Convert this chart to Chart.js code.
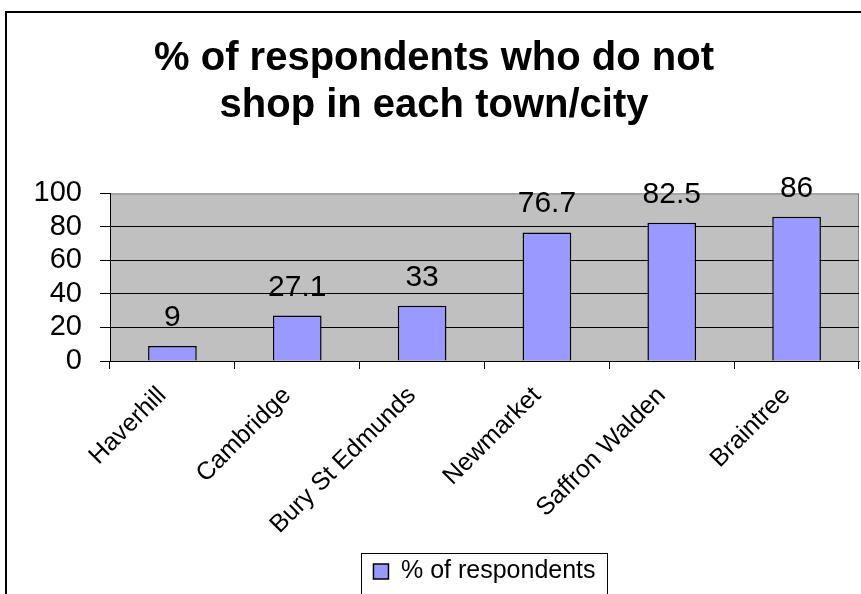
<!DOCTYPE html>
<html>
<head>
<meta charset="utf-8">
<script src="https://cdn.jsdelivr.net/npm/chart.js@4.4.1/dist/chart.umd.min.js"></script>
<style>
  html, body { margin: 0; padding: 0; background: #fff; }
  canvas { display: block; }
</style>
</head>
<body>
<canvas id="shopChart" width="861" height="594"></canvas>
<script>
const towns = ['Haverhill', 'Cambridge', 'Bury St Edmunds', 'Newmarket', 'Saffron Walden', 'Braintree'];
const pctNotShop = [9, 27.1, 33, 76.7, 82.5, 86];
const seriesName = '% of respondents';
const chartTitle = ['% of respondents who do not', 'shop in each town/city'];
const yMin = 0, yMax = 100, yStep = 20;

const FONT = "'Liberation Sans', Arial, sans-serif";

// white page, outer frame and the grey plot area
const plotBackground = {
    id: 'plotBackground',
    beforeDraw(chart) {
        const { ctx, chartArea: a } = chart;
        ctx.save();
        ctx.fillStyle = '#fff';
        ctx.fillRect(0, 0, chart.width, chart.height);
        ctx.strokeStyle = '#000';
        ctx.lineWidth = 2;
        ctx.beginPath();
        ctx.moveTo(6, chart.height);
        ctx.lineTo(6, 12);
        ctx.lineTo(chart.width, 12);
        ctx.stroke();
        ctx.fillStyle = '#c0c0c0';
        ctx.fillRect(a.left, a.top, a.width, a.height);
        ctx.strokeStyle = '#808080';
        ctx.lineWidth = 1;
        ctx.strokeRect(a.left + 0.5, a.top + 0.5, a.width - 1, a.height);
        ctx.restore();
    }
};

// value above each bar
const barValues = {
    id: 'barValues',
    afterDatasetsDraw(chart) {
        const { ctx } = chart;
        const meta = chart.getDatasetMeta(0);
        ctx.save();
        ctx.fillStyle = '#000';
        ctx.font = '30px ' + FONT;
        ctx.textAlign = 'center';
        ctx.textBaseline = 'alphabetic';
        meta.data.forEach((bar, i) => {
            ctx.fillText(String(pctNotShop[i]), bar.x, bar.y - 20);
        });
        ctx.restore();
    }
};

// box round the legend, runs off the bottom like the original
const legendFrame = {
    id: 'legendFrame',
    afterDraw(chart) {
        const hb = chart.legend && chart.legend.legendHitBoxes[0];
        if (!hb) return;
        const ctx = chart.ctx;
        ctx.save();
        ctx.strokeStyle = '#000';
        ctx.lineWidth = 1;
        ctx.strokeRect(Math.round(hb.left - 12) + 0.5, Math.round(hb.top - 6) + 0.5,
            Math.round(hb.width + 24), chart.height);
        ctx.restore();
    }
};

new Chart(document.getElementById('shopChart'), {
    type: 'bar',
    data: {
        labels: towns,
        datasets: [{
            label: seriesName,
            data: pctNotShop,
            backgroundColor: '#9999ff',
            borderColor: '#000',
            borderWidth: 1.5,
            categoryPercentage: 1,
            barPercentage: 0.39
        }]
    },
    options: {
        responsive: false,
        animation: false,
        events: [],
        layout: { padding: { left: 9, right: 2, top: 0, bottom: 0 } },
        scales: {
            x: {
                grid: { offset: true, drawOnChartArea: false, tickLength: 8, tickColor: '#000' },
                border: { color: '#000', width: 1 },
                ticks: {
                    color: '#000',
                    font: { family: FONT, size: 25 },
                    minRotation: 45,
                    maxRotation: 45,
                    autoSkip: false,
                    labelOffset: -10,
                    padding: 12
                },
                afterFit(scale) { scale.height = 186; }
            },
            y: {
                min: yMin,
                max: yMax,
                grid: {
                    color: ctx => (ctx.tick && ctx.tick.value === yMax) ? 'rgba(0,0,0,0)' : '#000',
                    tickColor: '#000',
                    tickLength: 10
                },
                border: { color: '#000', width: 1 },
                ticks: {
                    stepSize: yStep,
                    autoSkip: false,
                    color: '#000',
                    font: { family: FONT, size: 29 },
                    padding: 18
                },
                afterFit(scale) { scale.width = 101; }
            }
        },
        plugins: {
            title: {
                display: true,
                text: chartTitle,
                color: '#000',
                font: { family: FONT, size: 40, weight: 'bold', lineHeight: 1.18 },
                padding: { top: 35, bottom: 64 }
            },
            legend: {
                position: 'bottom',
                fullSize: false,
                labels: {
                    color: '#000',
                    font: { family: FONT, size: 25 },
                    boxWidth: 15,
                    boxHeight: 15,
                    padding: 12
                }
            },
            tooltip: { enabled: false }
        }
    },
    plugins: [plotBackground, barValues, legendFrame]
});
</script>
</body>
</html>
